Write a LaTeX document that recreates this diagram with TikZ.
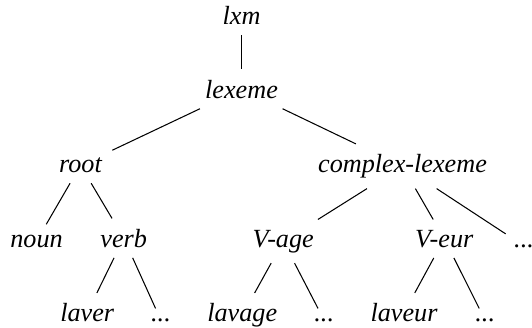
\documentclass[tikz,border=0pt]{standalone}
\usepackage{fontspec}
\setmainfont{Liberation Serif}[ItalicFont={Liberation Serif Italic}]
\usetikzlibrary{positioning}

\begin{document}
\begin{tikzpicture}[wd/.style={inner sep=3.8pt, font=\rmfamily\itshape}]

  \useasboundingbox (-3.240,0.335) rectangle (3.897,-4.065);

  \node[wd, anchor=base] (lxm) at (0,0) {lxm};
  \node[wd, below = 0.98cm of lxm.base, anchor=base] (lexeme) {lexeme};
  \node[wd, below left = 1cm and 2.16cm of lexeme.base, anchor=base] (root) {root};
  \node[wd, below right = 1cm and 2.16cm of lexeme.base, anchor=base] (cplx) {complex-lexeme};
  \node[wd, below left = 1cm and 0.59cm of root.base, anchor=base] (noun) {noun};
  \node[wd, below right = 1cm and 0.58cm of root.base, anchor=base] (verb) {verb};
  \node[wd, below left = 1cm and 1.60cm of cplx.base, anchor=base] (vage) {V-age};
  \node[wd, below right = 1cm and 0.56cm of cplx.base, anchor=base] (veur) {V-eur};
  \node[wd, below right = 1cm and 1.63cm of cplx.base, anchor=base] (cdots) {...};
  \node[wd, below left = 1cm and 0.49cm of verb.base, anchor=base] (laver) {laver};
  \node[wd, below right = 1cm and 0.50cm of verb.base, anchor=base] (vdots) {...};
  \node[wd, below left = 1cm and 0.55cm of vage.base, anchor=base] (lavage) {lavage};
  \node[wd, below right = 1cm and 0.55cm of vage.base, anchor=base] (adots) {...};
  \node[wd, below left = 1cm and 0.54cm of veur.base, anchor=base] (laveur) {laveur};
  \node[wd, below right = 1cm and 0.55cm of veur.base, anchor=base] (edots) {...};

  \path
    (lxm) edge (lexeme)
    (lexeme) edge (root)
    (lexeme) edge (cplx)
    (root) edge (noun)
    (root) edge (verb)
    (cplx) edge (vage)
    (cplx) edge (veur)
    (cplx) edge (cdots)
    (verb) edge (laver)
    (verb) edge (vdots)
    (vage) edge (lavage)
    (vage) edge (adots)
    (veur) edge (laveur)
    (veur) edge (edots)
  ;
\end{tikzpicture}
\end{document}
